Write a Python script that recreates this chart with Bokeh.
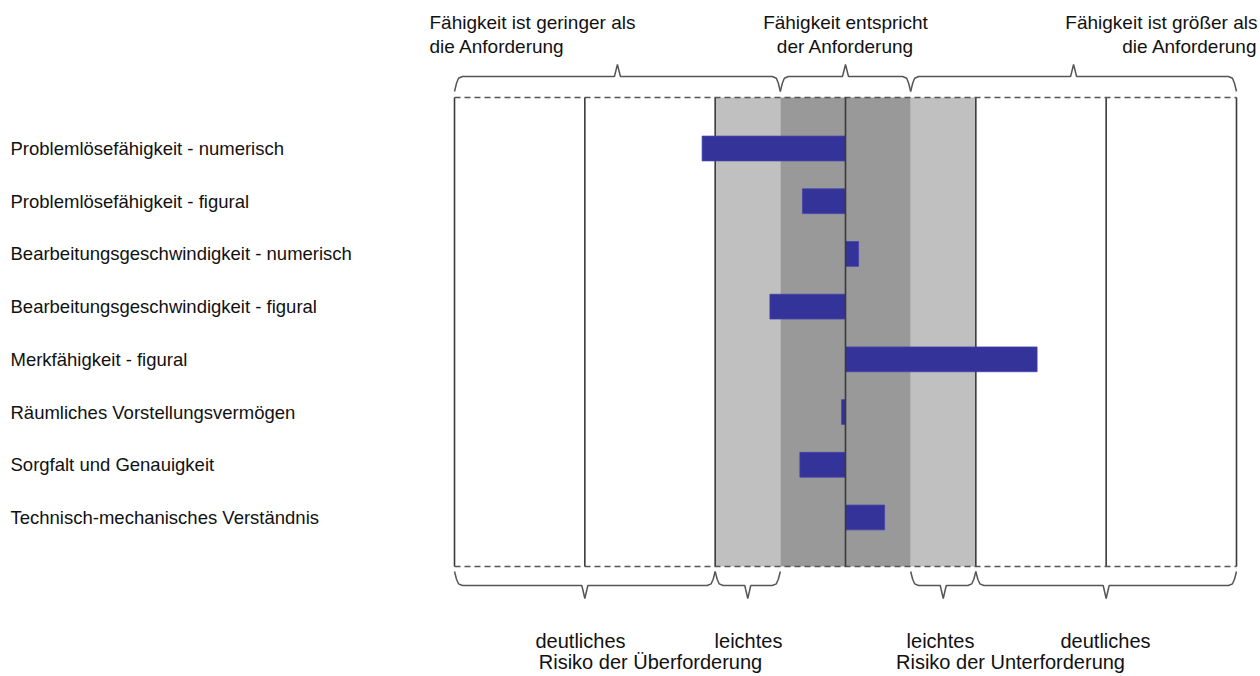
from bokeh.plotting import figure
from bokeh.models import Range1d
from bokeh.embed import file_html
from bokeh.resources import INLINE
from bokeh.core.properties import value

# ---- data ----
categories = [
    "Problemlösefähigkeit - numerisch",
    "Problemlösefähigkeit - figural",
    "Bearbeitungsgeschwindigkeit - numerisch",
    "Bearbeitungsgeschwindigkeit - figural",
    "Merkfähigkeit - figural",
    "Räumliches Vorstellungsvermögen",
    "Sorgfalt und Genauigkeit",
    "Technisch-mechanisches Verständnis",
]
scores = [-1.10, -0.33, 0.10, -0.58, 1.47, -0.03, -0.35, 0.30]

grid_positions = [-3, -2, -1, 0, 1, 2, 3]
light_zone_left = [-1.0, 0.5]
light_zone_right = [-0.5, 1.0]
dark_zone_left = [-0.5]
dark_zone_right = [0.5]

top_brace_left = [-3.0, -0.5, 0.5]
top_brace_right = [-0.5, 0.5, 3.0]
top_line1 = ["Fähigkeit ist geringer als", "Fähigkeit entspricht", "Fähigkeit ist größer als"]
top_line2 = ["die Anforderung", "der Anforderung", "die Anforderung"]

bottom_brace_left = [-3.0, -1.0, 0.5, 1.0]
bottom_brace_right = [-1.0, -0.5, 1.0, 3.0]
bottom_words = ["deutliches", "leichtes", "leichtes", "deutliches"]
bottom_groups = ["Risiko der Überforderung", "Risiko der Unterforderung"]

# ---- geometry helpers (page pixels -> data units) ----
XU = 130.33   # px per unit on x
YU = 52.71    # px per row
X0 = 845.0    # page x of value 0
Y0 = 148.0    # page y of first row

def dx(px):
    return px / XU

def ux(page_x):
    return (page_x - X0) / XU

def uy(page_y):
    return (page_y - Y0) / YU

W, H = 1260, 676
p = figure(width=W, height=H, output_backend="svg", toolbar_location=None,
           x_range=Range1d(ux(0), ux(W)),
           y_range=Range1d(uy(H), uy(0)),
           min_border=0, x_axis_location=None, y_axis_location=None)
p.grid.visible = False
p.outline_line_color = None
p.background_fill_color = "white"

top_y = uy(97)
bot_y = uy(566)
rows = list(range(len(categories)))
FONT = value("Liberation Sans")

# shaded zones
p.quad(left=light_zone_left, right=light_zone_right, top=top_y, bottom=bot_y,
       fill_color="#c0c0c0", line_color=None)
p.quad(left=dark_zone_left, right=dark_zone_right, top=top_y, bottom=bot_y,
       fill_color="#999999", line_color=None)

# vertical grid lines (except centre)
outer = [g for g in grid_positions if g != 0]
p.segment(x0=outer, y0=top_y, x1=outer, y1=bot_y, line_color="#3a3a3a", line_width=1.6)

# dashed horizontal borders
p.segment(x0=[grid_positions[0]] * 2, y0=[top_y, bot_y],
          x1=[grid_positions[-1]] * 2, y1=[top_y, bot_y],
          line_color="#555555", line_width=1.6, line_dash="6 4")

# bars
p.hbar(y=rows, left=0, right=scores, height=0.47,
       fill_color="#333399", line_color="#4444aa", line_width=0.8)

# centre line
p.segment(x0=[0], y0=[top_y], x1=[0], y1=[bot_y], line_color="#3a3a3a", line_width=1.6)

# category labels
p.text(x=[ux(10)] * len(categories), y=rows, text=categories,
       text_font=FONT, text_font_size="18.5px", text_color="#111111",
       text_align="left", text_baseline="middle")

# braces
def brace(a, b, y_end, y_line, y_tip):
    m = (a + b) / 2
    xs = [a, a + dx(2), a + dx(4), a + dx(8), m - dx(3), m, m + dx(3),
          b - dx(8), b - dx(4), b - dx(2), b]
    ys = [y_end, y_line + (y_end - y_line) * 0.45, y_line + (y_end - y_line) * 0.12, y_line,
          y_line, y_tip, y_line, y_line,
          y_line + (y_end - y_line) * 0.12, y_line + (y_end - y_line) * 0.45, y_end]
    return xs, ys

txs, tys = [], []
for a, b in zip(top_brace_left, top_brace_right):
    xs, ys = brace(a, b, uy(91), uy(76), uy(64))
    txs.append(xs); tys.append(ys)
bxs, bys = [], []
for a, b in zip(bottom_brace_left, bottom_brace_right):
    xs, ys = brace(a, b, uy(571), uy(585), uy(598))
    bxs.append(xs); bys.append(ys)
p.multi_line(xs=txs + bxs, ys=tys + bys, line_color="#555555", line_width=1.5)

# top texts
TS = "19px"
top_x = [ux(429), 0.0, ux(1257)]
aligns = ["left", "center", "right"]
for x, t1, t2, al in zip(top_x, top_line1, top_line2, aligns):
    p.text(x=[x, x], y=[uy(22), uy(46)], text=[t1, t2], text_font=FONT,
           text_font_size=TS, text_color="#111111", text_align=al, text_baseline="middle")

# bottom texts
BS = "20px"
bw_x = [ux(580), ux(748), ux(940), ux(1105)]
p.text(x=bw_x, y=[uy(640)] * 4, text=bottom_words, text_font=FONT,
       text_font_size=BS, text_color="#111111", text_align="center", text_baseline="middle")
p.text(x=[ux(650), ux(1010)], y=[uy(661)] * 2, text=bottom_groups, text_font=FONT,
       text_font_size=BS, text_color="#111111", text_align="center", text_baseline="middle")

open("out.html", "w").write(file_html(p, INLINE))
